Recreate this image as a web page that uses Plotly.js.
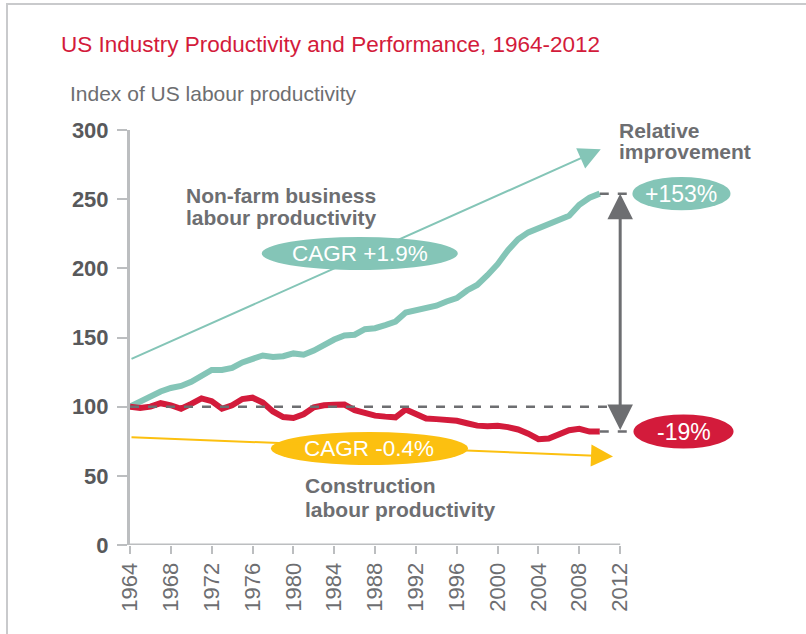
<!DOCTYPE html>
<html>
<head>
<meta charset="utf-8">
<script src="https://cdn.plot.ly/plotly-3.0.1.min.js"></script>
<style>
  html, body { margin: 0; padding: 0; background: #ffffff; }
  #frame { position: absolute; left: 6px; top: 3px; width: 806px; height: 640px;
           border-left: 2px solid #c9cacc; border-top: 2px solid #c9cacc; }
  #chart { position: absolute; left: 0; top: 0; width: 806px; height: 634px; }
</style>
</head>
<body>
<div id="frame"></div>
<div id="chart"></div>
<script>
// ---- data ----
var years = [1964,1965,1966,1967,1968,1969,1970,1971,1972,1973,1974,1975,1976,1977,1978,1979,
             1980,1981,1982,1983,1984,1985,1986,1987,1988,1989,1990,1991,1992,1993,1994,1995,
             1996,1997,1998,1999,2000,2001,2002,2003,2004,2005,2006,2007,2008,2009,2010];
var nonFarm = [100,104,108,111,113.5,115,118,122.5,126.5,126.5,128,132,134.5,137,136,136.5,
               138.5,137.5,140.5,145,148.5,151.5,152,156,156.7,159,161.5,168,169.5,171.5,173,176,
               178.5,184,188,195,203,213,221,226,229,232,234,238,246,251,254];
var construction = [100,99,100,102.5,101,98.5,102,106,104,98.5,101,105.5,106.5,103,96.5,92.5,
                    91.8,94.5,99.5,101,101.3,101.5,97.5,95.5,93.5,92.8,92.3,98,95,91.5,91,90.4,
                    89.8,88,86.3,85.8,86.2,85.2,83.5,80.5,76.5,77,79.5,83,84,82,82];
var tickYears = [1964,1968,1972,1976,1980,1984,1988,1992,1996,2000,2004,2008,2012];
var yTicks = [0,50,100,150,200,250,300];
var nonFarmTrend = {start: [1964, 134], end: [2010.1, 286], label: "CAGR +1.9%"};
var constrTrend = {start: [1964, 78], end: [2011.3, 64], label: "CAGR -0.4%"};
var nonFarmChange = "+153%";
var constrChange = "-19%";
var baseValue = 100;
var nonFarmLabel = ["Non-farm business", "labour productivity"];
var constrLabel = ["Construction", "labour productivity"];
var relLabel = ["Relative", "improvement"];

// ---- styles ----
var TEAL = "#84c5b7", RED = "#d31b3b", YELLOW = "#fcc010", GREY = "#6d6e71", AXIS = "#bcbec0";
var FONT = "Liberation Sans, Arial, sans-serif";

var lastNF = nonFarm[nonFarm.length - 1];
var lastC = construction[construction.length - 1];
var lastYear = years[years.length - 1];

var traces = [
  {x: years, y: nonFarm, type: "scatter", mode: "lines",
   line: {color: TEAL, width: 6, shape: "linear"}, hoverinfo: "skip"},
  {x: years, y: construction, type: "scatter", mode: "lines",
   line: {color: RED, width: 6, shape: "linear"}, hoverinfo: "skip"}
];

var shapes = [
  {type: "line", xref: "x", yref: "y", x0: 1964, x1: 2012, y0: 0, y1: 0,
   line: {color: AXIS, width: 3}, layer: "below"},
  {type: "line", xref: "x", yref: "y", x0: 1964, x1: 2013.3, y0: baseValue, y1: baseValue,
   line: {color: GREY, width: 2.5, dash: "dash"}},
  {type: "line", xref: "x", yref: "y", x0: lastYear, x1: 2013.3, y0: lastNF, y1: lastNF,
   line: {color: GREY, width: 2.5, dash: "dash"}},
  {type: "line", xref: "x", yref: "y", x0: lastYear, x1: 2013.3, y0: lastC, y1: lastC,
   line: {color: GREY, width: 2.5, dash: "dash"}},
  {type: "circle", xref: "x", yref: "y", x0: 1976.9, x1: 1996.1, y0: 198.8, y1: 222.7,
   fillcolor: TEAL, line: {width: 0}},
  {type: "circle", xref: "x", yref: "y", x0: 1977.8, x1: 1997.1, y0: 57.8, y1: 81.7,
   fillcolor: YELLOW, line: {width: 0}},
  {type: "circle", xref: "x", yref: "y", x0: 2013.2, x1: 2022.8, y0: lastNF - 12, y1: lastNF + 12,
   fillcolor: TEAL, line: {width: 0}},
  {type: "circle", xref: "x", yref: "y", x0: 2013.3, x1: 2023.1, y0: lastC - 12.3, y1: lastC + 12.3,
   fillcolor: RED, line: {width: 0}}
];

function textLine(x, y, t, shift) {
  return {xref: "x", yref: "y", x: x, y: y, xanchor: "left", yanchor: "middle", align: "left",
          yshift: shift || 0,
          text: "<b>" + t + "</b>", showarrow: false, font: {family: FONT, size: 21, color: GREY}};
}

var annotations = [
  {xref: "x", yref: "y", axref: "x", ayref: "y", x: nonFarmTrend.end[0], y: nonFarmTrend.end[1],
   ax: nonFarmTrend.start[0], ay: nonFarmTrend.start[1], showarrow: true, arrowhead: 2,
   arrowsize: 2.2, arrowwidth: 2, arrowcolor: TEAL, text: ""},
  {xref: "x", yref: "y", axref: "x", ayref: "y", x: constrTrend.end[0], y: constrTrend.end[1],
   ax: constrTrend.start[0], ay: constrTrend.start[1], showarrow: true, arrowhead: 2,
   arrowsize: 2.2, arrowwidth: 2, arrowcolor: YELLOW, text: ""},
  {xref: "x", yref: "y", axref: "x", ayref: "y", x: 2012, y: lastNF, ax: 2012, ay: lastC,
   showarrow: true, arrowhead: 2, startarrowhead: 2, arrowside: "end+start",
   arrowsize: 1.7, startarrowsize: 1.7, arrowwidth: 3, arrowcolor: GREY, text: ""},
  {xref: "x", yref: "y", x: 1986.5, y: 210.8, text: nonFarmTrend.label, showarrow: false,
   font: {family: FONT, size: 22.5, color: "#ffffff"}},
  {xref: "x", yref: "y", x: 1987.4, y: 69.8, text: constrTrend.label, showarrow: false,
   font: {family: FONT, size: 22.5, color: "#ffffff"}},
  {xref: "x", yref: "y", x: 2018, y: lastNF, text: nonFarmChange, showarrow: false,
   font: {family: FONT, size: 23, color: "#ffffff"}},
  {xref: "x", yref: "y", x: 2018.2, y: lastC, text: constrChange, showarrow: false,
   font: {family: FONT, size: 23, color: "#ffffff"}},
  textLine(1969.3, 252.3, nonFarmLabel[0]),
  textLine(1969.3, 237.0, nonFarmLabel[1]),
  textLine(1980.9, 42.7, constrLabel[0]),
  textLine(1980.9, 26.0, constrLabel[1]),
  textLine(2011.7, 299.5, relLabel[0], 0),
  textLine(2011.7, 284.5, relLabel[1]),
  {xref: "paper", yref: "paper", x: -0.092, y: 1.089, xanchor: "left", yanchor: "middle",
   text: "Index of US labour productivity", showarrow: false,
   font: {family: FONT, size: 21, color: GREY}}
];

var layout = {
  width: 806, height: 634,
  margin: {l: 130, r: 2, t: 130, b: 89, pad: 0},
  paper_bgcolor: "rgba(0,0,0,0)", plot_bgcolor: "rgba(0,0,0,0)",
  showlegend: false,
  title: {text: "US Industry Productivity and Performance, 1964-2012",
          xref: "container", yref: "container", x: 61 / 806, y: 1 - 44 / 634,
          xanchor: "left", yanchor: "middle",
          font: {family: FONT, size: 22.5, color: "#d31b3b"}},
  xaxis: {range: [1964, 2030], tickmode: "array", tickvals: tickYears,
          ticktext: tickYears.map(String), tickangle: -90,
          ticks: "outside", ticklen: 8, tickwidth: 2, tickcolor: AXIS,
          showline: false, showgrid: false, zeroline: false,
          tickfont: {family: FONT, size: 22, color: GREY}, fixedrange: true},
  yaxis: {range: [0, 300], tickmode: "array", tickvals: yTicks,
          ticks: "outside", ticklen: 10, tickwidth: 2, tickcolor: AXIS,
          showline: true, linecolor: AXIS, linewidth: 3,
          showgrid: false, zeroline: false, ticklabelstandoff: 4,
          tickfont: {family: FONT, size: 22, color: "#58595b", weight: "bold"}, fixedrange: true},
  shapes: shapes,
  annotations: annotations
};

Plotly.newPlot("chart", traces, layout, {displayModeBar: false, staticPlot: true});
</script>
</body>
</html>
